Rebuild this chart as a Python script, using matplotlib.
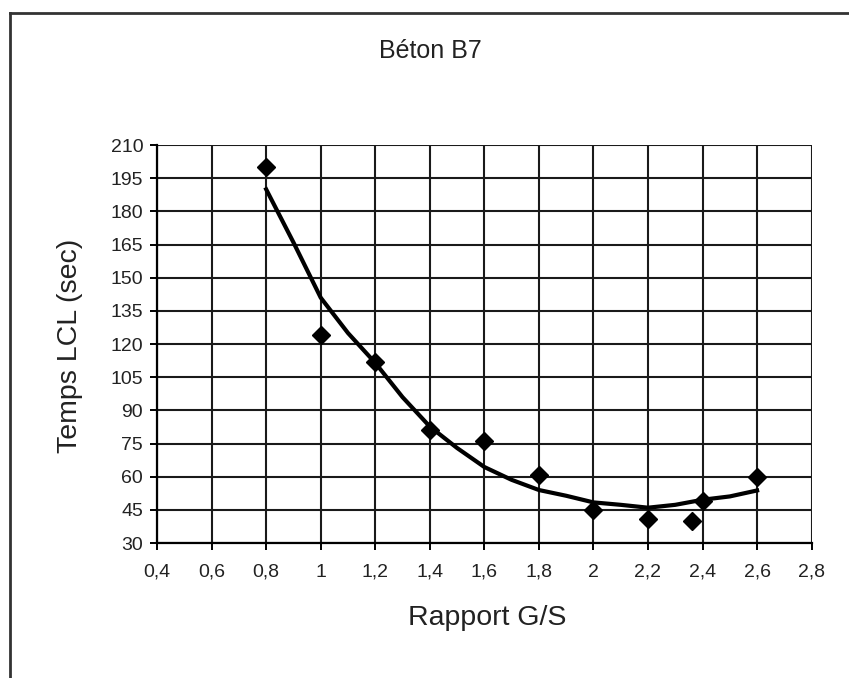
import matplotlib
matplotlib.use("Agg")
import matplotlib.pyplot as plt
from matplotlib.lines import Line2D

plt.rcParams['font.family'] = ['Liberation Sans', 'DejaVu Sans']

# Measured points
x_pts = [0.8, 1.0, 1.2, 1.4, 1.6, 1.8, 2.0, 2.2, 2.36, 2.4, 2.6]
y_pts = [200, 124, 112, 81, 76, 61, 45, 41, 40, 49, 60]

# Trend curve
x_curve = [0.8, 0.9, 1.0, 1.1, 1.2, 1.3, 1.4, 1.5, 1.6, 1.7, 1.8, 1.9, 2.0, 2.1, 2.2, 2.3, 2.4, 2.5, 2.6]
y_curve = [190, 166, 141, 125, 111.5, 96, 82.7, 73, 64.4, 58.6, 54, 51.4, 48.4, 47.3, 46, 47.3, 49.6, 51.1, 53.8]

x_ticks = [0.4, 0.6, 0.8, 1.0, 1.2, 1.4, 1.6, 1.8, 2.0, 2.2, 2.4, 2.6, 2.8]
x_tick_labels = ['0,4', '0,6', '0,8', '1', '1,2', '1,4', '1,6', '1,8', '2', '2,2', '2,4', '2,6', '2,8']
y_ticks = [30, 45, 60, 75, 90, 105, 120, 135, 150, 165, 180, 195, 210]

title = 'Béton B7'
xlabel = 'Rapport G/S'
ylabel = 'Temps LCL (sec)'

fig = plt.figure(figsize=(8.49, 6.78), dpi=100)
ax = fig.add_axes([0.185, 0.199, 0.771, 0.587])

ax.set_xlim(0.4, 2.8)
ax.set_ylim(30, 210)
ax.set_xticks(x_ticks)
ax.set_xticklabels(x_tick_labels)
ax.set_yticks(y_ticks)
ax.set_yticklabels([str(v) for v in y_ticks])

ax.grid(True, color='#1a1a1a', linewidth=1.5)
ax.set_axisbelow(True)
for s in ['top', 'right']:
    ax.spines[s].set_visible(False)
for s in ['left', 'bottom']:
    ax.spines[s].set_color('black')
    ax.spines[s].set_linewidth(1.6)
ax.tick_params(axis='both', direction='out', length=5, width=1.4, colors='black',
               labelsize=14, labelcolor='#222222')
ax.tick_params(axis='x', pad=10)
ax.tick_params(axis='y', pad=5)

ax.plot(x_curve, y_curve, color='black', linewidth=3, solid_joinstyle='round', zorder=3)
ax.plot(x_pts, y_pts, linestyle='none', marker='D', markersize=9, color='black', zorder=4,
        clip_on=False)

fig.text(0.507, 0.925, title, ha='center', va='center', fontsize=18, color='#222222')
fig.text(0.574, 0.088, xlabel, ha='center', va='center', fontsize=20.5, color='#222222')
fig.text(0.083, 0.49, ylabel, ha='center', va='center', rotation=90, fontsize=20.5, color='#222222')

# Outer frame (left and top edges visible)
fig.add_artist(Line2D([0.012, 0.012], [0.0, 0.981], transform=fig.transFigure,
                      color='#333333', linewidth=2))
fig.add_artist(Line2D([0.012, 1.0], [0.981, 0.981], transform=fig.transFigure,
                      color='#333333', linewidth=2))

fig.savefig('out.png', dpi=100)
